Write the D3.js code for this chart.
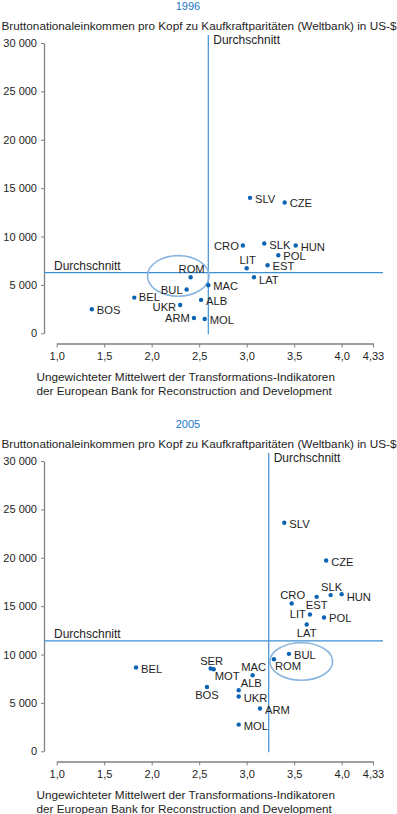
<!DOCTYPE html>
<html><head><meta charset="utf-8">
<script src="https://cdn.jsdelivr.net/npm/d3@7"></script>
<style>
body{margin:0;background:#fff;}
svg{display:block;font-family:"Liberation Sans",Arial,sans-serif;}
</style></head>
<body><svg id="c" width="397" height="814"></svg>
<script>
// ---- data ----
const years = ["1996", "2005"];
const yTitle = "Bruttonationaleinkommen pro Kopf zu Kaufkraftparitäten (Weltbank) in US-$";
const xTitle = ["Ungewichteter Mittelwert der Transformations-Indikatoren", "der European Bank for Reconstruction and Development"];
const avgLabel = "Durchschnitt";
const xTicks = [1.0, 1.5, 2.0, 2.5, 3.0, 3.5, 4.0, 4.33];
const yTicks = [0, 5000, 10000, 15000, 20000, 25000, 30000];

const countries1996 = ["SLV","CZE","CRO","SLK","HUN","POL","LIT","EST","LAT","ROM","BUL","MAC","BEL","ALB","UKR","BOS","ARM","MOL"];
const ebrd1996 =      [3.035,3.40, 2.96, 3.185,3.516,3.333,3.0,  3.22, 3.077,2.41, 2.368,2.596,1.817,2.52, 2.30, 1.37, 2.445,2.558];
const gni1996 =       [14000,13520,9070, 9280, 9070, 8070, 6730, 7040, 5800, 5800, 4520, 4970, 3690, 3450, 2930, 2480, 1580, 1480];
const place1996 =     ["r",  "r",  "l",  "r",  "r",  "r",  "t",  "r",  "rb", "t",  "l",  "r",  "rt", "r",  "lb", "r",  "l",  "r"];

const countries2005 = ["SLV","CZE","CRO","EST","SLK","HUN","LIT","POL","LAT","BUL","ROM","BEL","SER","MOT","MAC","BOS","ALB","UKR","ARM","MOL"];
const ebrd2005 =      [3.396,3.837,3.474,3.737,3.884,4.0,  3.666,3.814,3.632,3.445,3.287,1.835,2.621,2.653,3.063,2.582,2.916,2.916,3.14, 2.916];
const gni2005 =       [23620,19710,15280,15960,16140,16240,14140,13830,13110,10070,9520, 8660, 8550, 8480, 7860, 6650, 6310, 5660, 4420, 2760];
const place2005 =     ["r",  "r",  "t",  "b",  "t",  "rb", "l",  "r",  "b",  "r",  "br", "r",  "t",  "br", "t",  "b",  "tr", "r",  "r",  "r"];

const avgX = [2.596, 3.232];
const avgY = [6270, 11410];
// highlighted group (ellipse): centre and radii in data units
const ellCx = [2.28, 3.575];
const ellCy = [5930, 9280];
const ellRx = [0.324, 0.33];
const ellRy = [2100, 1935];

// ---- styles ----
const dotColor = "#0b64b3";
const lineColor = "#3f8fd5";
const ellColor = "#8ab6df";
const textColor = "#1e1e1e";
const axisColor = "#808080";

const svg = d3.select("#c");
const fmtX = d => d === 4.33 ? "4,33" : d3.format(".1f")(d).replace(".", ",");
const fmtY = d => d3.format(",")(d).replace(/,/g, " ");

function panel(idx, oy, names, xs, ys, places) {
  const g = svg.append("g").attr("transform", `translate(0,${oy})`);
  const x = d3.scaleLinear().domain([1, 4.33]).range([56.7, 373]);
  const y = d3.scaleLinear().domain([0, 30000]).range([333.3, 43]);

  // year title
  g.append("text").attr("x", 188).attr("y", 6).attr("text-anchor", "middle")
    .attr("dominant-baseline", "central").attr("font-size", 11).attr("fill", "#1a78c8").text(years[idx]);
  // y title
  g.append("text").attr("x", 1.5).attr("y", 25).attr("dominant-baseline", "central")
    .attr("font-size", 11.75).attr("fill", textColor).text(yTitle);

  // y axis
  const ya = g.append("g").attr("transform", "translate(44,0)")
    .call(d3.axisLeft(y).tickValues(yTicks).tickFormat(fmtY).tickSize(3).tickSizeOuter(0).tickPadding(4));
  ya.select(".domain").attr("stroke", axisColor).attr("stroke-width", 1.3);
  ya.selectAll(".tick line").attr("stroke", axisColor);
  ya.selectAll("text").attr("font-size", 11).attr("fill", textColor).attr("font-family", "Liberation Sans, Arial, sans-serif");

  // x axis
  const xa = g.append("g").attr("transform", "translate(0,343.5)")
    .call(d3.axisBottom(x).tickValues(xTicks).tickFormat(fmtX).tickSize(4).tickSizeOuter(0).tickPadding(5));
  xa.select(".domain").attr("stroke", axisColor).attr("stroke-width", 1.3);
  xa.selectAll(".tick line").attr("stroke", axisColor);
  xa.selectAll("text").attr("font-size", 11).attr("fill", textColor).attr("font-family", "Liberation Sans, Arial, sans-serif");

  // x title
  xTitle.forEach((t, i) => {
    g.append("text").attr("x", 36.5).attr("y", 376.7 + i * 14).attr("dominant-baseline", "central")
      .attr("font-size", 11.75).attr("fill", textColor).text(t);
  });

  // average lines
  g.append("line").attr("x1", x(avgX[idx])).attr("x2", x(avgX[idx]))
    .attr("y1", y(30000) - 8).attr("y2", y(0) + 1)
    .attr("stroke", lineColor).attr("stroke-width", 1.2);
  g.append("line").attr("x1", 44).attr("x2", x(4.33) + 10)
    .attr("y1", y(avgY[idx])).attr("y2", y(avgY[idx]))
    .attr("stroke", lineColor).attr("stroke-width", 1.2);
  g.append("text").attr("x", x(avgX[idx]) + 5).attr("y", y(30000) - 3).attr("dominant-baseline", "central")
    .attr("font-size", 12).attr("fill", textColor).text(avgLabel);
  g.append("text").attr("x", 54).attr("y", y(avgY[idx]) - 6.5).attr("dominant-baseline", "central")
    .attr("font-size", 12).attr("fill", textColor).text(avgLabel);

  // ellipse
  g.append("ellipse")
    .attr("cx", x(ellCx[idx])).attr("cy", y(ellCy[idx]))
    .attr("rx", x(ellCx[idx] + ellRx[idx]) - x(ellCx[idx]))
    .attr("ry", y(0) - y(ellRy[idx]))
    .attr("fill", "none").attr("stroke", ellColor).attr("stroke-width", 1.6);

  // points
  const data = names.map((n, i) => ({ n, x: xs[i], y: ys[i], p: places[i] }));
  g.selectAll("circle.pt").data(data).join("circle").attr("class", "pt")
    .attr("cx", d => x(d.x)).attr("cy", d => y(d.y)).attr("r", 2.2).attr("fill", dotColor);

  const off = {
    r:  { a: "start",  dx: 5,  dy: 1 },
    rt: { a: "start",  dx: 4.5, dy: -1 },
    rb: { a: "start",  dx: 5,  dy: 2.5 },
    l:  { a: "end",    dx: -4, dy: 0 },
    lb: { a: "end",    dx: -4, dy: 2 },
    t:  { a: "middle", dx: 1,  dy: -8 },
    b:  { a: "middle", dx: 0,  dy: 8.5 },
    tr: { a: "start",  dx: 2,  dy: -7 },
    br: { a: "start",  dx: 1,  dy: 6.5 }
  };
  g.selectAll("text.lbl").data(data).join("text").attr("class", "lbl")
    .attr("x", d => x(d.x) + off[d.p].dx).attr("y", d => y(d.y) + off[d.p].dy)
    .attr("text-anchor", d => off[d.p].a).attr("dominant-baseline", "central")
    .attr("font-size", 11.2).attr("fill", textColor).text(d => d.n);
}

panel(0, 0, countries1996, ebrd1996, gni1996, place1996);
panel(1, 418, countries2005, ebrd2005, gni2005, place2005);
</script></body></html>
